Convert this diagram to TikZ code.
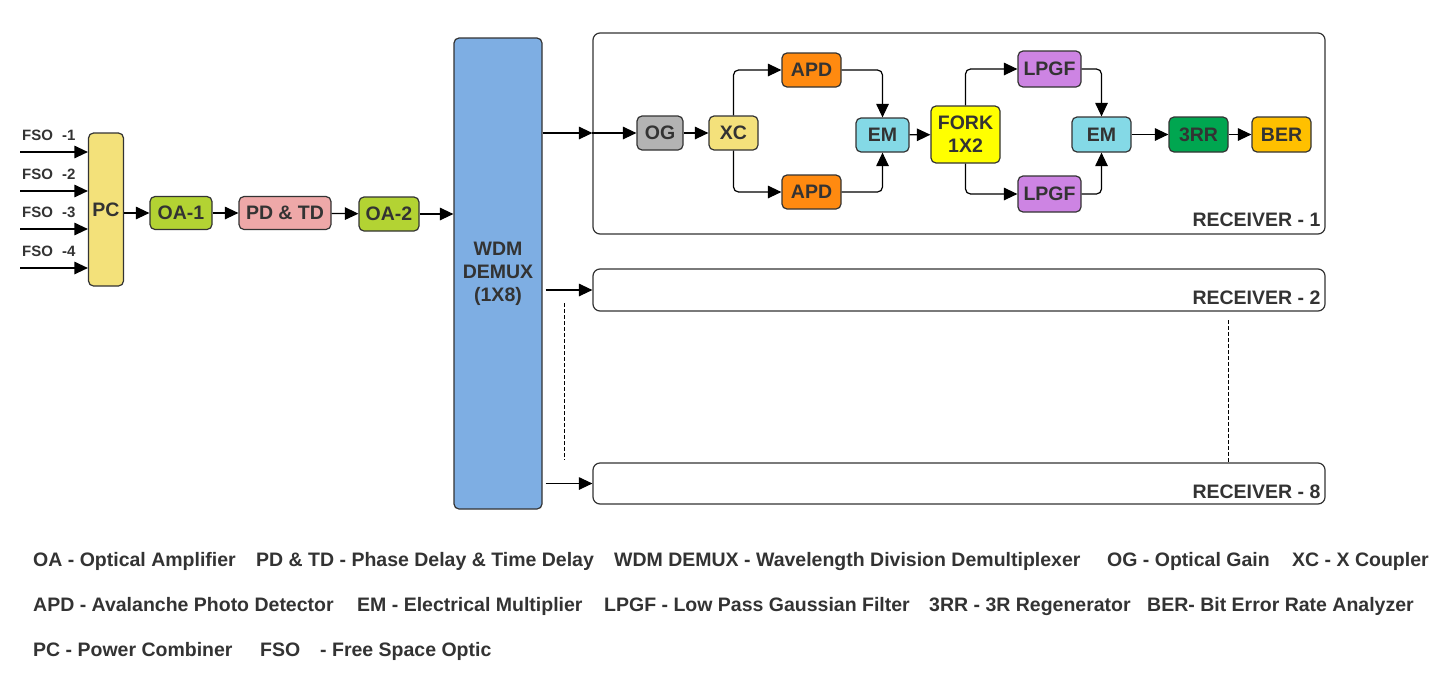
\documentclass[tikz,border=0pt]{standalone}
\usepackage{fontspec}
\setmainfont{Liberation Sans}
\usetikzlibrary{arrows.meta,positioning,calc}
\definecolor{txt}{HTML}{333333}
\definecolor{pcc}{HTML}{F3E17A}
\definecolor{oac}{HTML}{B3D333}
\definecolor{pdc}{HTML}{EEA8A8}
\definecolor{wdmc}{HTML}{7EAEE3}
\definecolor{ogc}{HTML}{B3B3B3}
\definecolor{xcc}{HTML}{F4E17B}
\definecolor{apdc}{HTML}{FF8A10}
\definecolor{emc}{HTML}{84D9E6}
\definecolor{forkc}{HTML}{FFFF00}
\definecolor{lpgfc}{HTML}{CD84E3}
\definecolor{rrc}{HTML}{00A650}
\definecolor{berc}{HTML}{FFC000}
\begin{document}
\begin{tikzpicture}[x=1pt, y=-1pt,
    box/.style={draw=txt, line width=1.2pt, rounded corners=5pt, align=center, inner sep=0pt, font=\fontsize{19.5}{23}\selectfont\bfseries, text=txt},
    rx/.style={draw=txt, line width=1.2pt, rounded corners=7pt, minimum width=732pt, inner sep=0pt},
    arr/.style={-{Triangle[length=13.5pt,width=12.5pt]}, line width=1.2pt, rounded corners=5pt},
    dots/.style={line width=0.8pt, dash pattern=on 4pt off 2pt},
    lbl/.style={anchor=base west, inner sep=0pt, font=\fontsize{19.5}{23}\selectfont\bfseries, text=txt},
    fsol/.style={anchor=base west, inner sep=0pt, font=\fontsize{15}{18}\selectfont\bfseries, text=txt}
]
\useasboundingbox (0,0) rectangle (1443,673);

% transmitter
\node[box, fill=pcc, minimum width=35pt, minimum height=153pt] (pc) at (106,209.5) {PC};
\node[box, fill=oac, minimum width=62pt, minimum height=33pt] (oa1) at (181,213) {OA-1};
\node[box, fill=pdc, minimum width=92pt, minimum height=33pt] (pdtd) at (285,213) {PD \& TD};
\node[box, fill=oac, minimum width=60pt, minimum height=34pt] (oa2) at (389,214) {OA-2};
\node[box, fill=wdmc, minimum width=88pt, minimum height=471pt] (wdm) at (498,273.5) {WDM\\DEMUX\\(1X8)};

\foreach \i/\yy in {1/152,2/191,3/229,4/268}{
    \coordinate (fso\i) at (20,\yy);
    \draw[arr] (fso\i) -- (fso\i -| pc.west);
    \node[fsol] (fsolbl\i) at (22,\yy-11.5) {FSO\hspace{9pt}-\i};
}
\draw[arr] (oa1 -| pc.east) -- (oa1.west);
\draw[arr] (oa1) -- (pdtd);
\draw[arr] (pdtd) -- (oa2);
\draw[arr] (oa2.east) -- (oa2 -| wdm.west);

% receivers
\node[rx, minimum height=201pt] (rx1) at (959,133.5) {};
\node[rx, minimum height=42pt] (rx2) at (959,290) {};
\node[rx, minimum height=41pt] (rx8) at (959,483.5) {};
\node[lbl, anchor=base east] (rx1lbl) at ([shift={(-5,-8)}]rx1.south east) {RECEIVER - 1};
\node[lbl, anchor=base east] (rx2lbl) at ([shift={(-5,-7)}]rx2.south east) {RECEIVER - 2};
\node[lbl, anchor=base east] (rx8lbl) at ([shift={(-5,-6)}]rx8.south east) {RECEIVER - 8};

\node[box, fill=ogc, minimum width=46pt, minimum height=34pt] (og) at (660,133) {OG};
\node[box, fill=xcc, minimum width=49pt, minimum height=34pt] (xc) at (733.5,133) {XC};
\node[box, fill=apdc, minimum width=59pt, minimum height=34pt] (apdT) at (811.5,70) {APD};
\node[box, fill=apdc, minimum width=59pt, minimum height=34pt] (apdB) at (811.5,192) {APD};
\node[box, fill=emc, minimum width=53pt, minimum height=34pt] (em1) at (882.5,135) {EM};
\node[box, fill=forkc, minimum width=69pt, minimum height=57pt] (fork) at (965.5,134.5) {FORK\\1X2};
\node[box, fill=lpgfc, minimum width=63pt, minimum height=36pt] (lpgfT) at (1049.5,69) {LPGF};
\node[box, fill=lpgfc, minimum width=63pt, minimum height=36pt] (lpgfB) at (1049.5,194) {LPGF};
\node[box, fill=emc, minimum width=59pt, minimum height=35pt] (em2) at (1101.5,134.5) {EM};
\node[box, fill=rrc, minimum width=59pt, minimum height=35pt] (rr) at (1198.5,134.5) {3RR};
\node[box, fill=berc, minimum width=59pt, minimum height=35pt] (ber) at (1281.5,134.5) {BER};

\draw[arr] (og -| wdm.east) -- (og -| rx1.west);
\draw[arr] (og -| rx1.west) -- (og);
\draw[arr] ([xshift=3pt]rx2.west -| wdm.east) -- (rx2.west);
\draw[arr] ([xshift=3pt]rx8.west -| wdm.east) -- (rx8.west);
\draw[arr] (og) -- (xc);
\draw[arr] (xc.north) |- (apdT.west);
\draw[arr] (xc.south) |- (apdB.west);
\draw[arr] (apdT.east) -| (em1.north);
\draw[arr] (apdB.east) -| (em1.south);
\draw[arr] (em1) -- (fork);
\draw[arr] (fork.north) |- (lpgfT.west);
\draw[arr] (fork.south) |- (lpgfB.west);
\draw[arr] (lpgfT.east) -| (em2.north);
\draw[arr] (lpgfB.east) -| (em2.south);
\draw[arr] (em2) -- (rr);
\draw[arr] (rr) -- (ber);

\coordinate (dl1) at (564,303);
\coordinate (dl2) at (564,460);
\coordinate (dr1) at (1228,320);
\draw[dots] (dl1) -- (dl2);
\draw[dots] (dr1) -- (dr1 |- rx8.north);

% legend
\foreach \xx/\lab [count=\k] in {33/OA - Optical Amplifier, 256/PD \& TD - Phase Delay \& Time Delay, 614/WDM DEMUX - Wavelength Division Demultiplexer, 1107/OG - Optical Gain, 1292/XC - X Coupler}
    \node[lbl] (lga\k) at (\xx,566) {\lab};
\foreach \xx/\lab [count=\k] in {33/APD - Avalanche Photo Detector, 357/EM - Electrical Multiplier, 604/LPGF - Low Pass Gaussian Filter, 929/3RR - 3R Regenerator, 1147/BER- Bit Error Rate Analyzer}
    \node[lbl] (lgb\k) at (\xx,611) {\lab};
\foreach \xx/\lab [count=\k] in {33/PC - Power Combiner, 260/FSO, 320/- Free Space Optic}
    \node[lbl] (lgc\k) at (\xx,656) {\lab};
\end{tikzpicture}
\end{document}
